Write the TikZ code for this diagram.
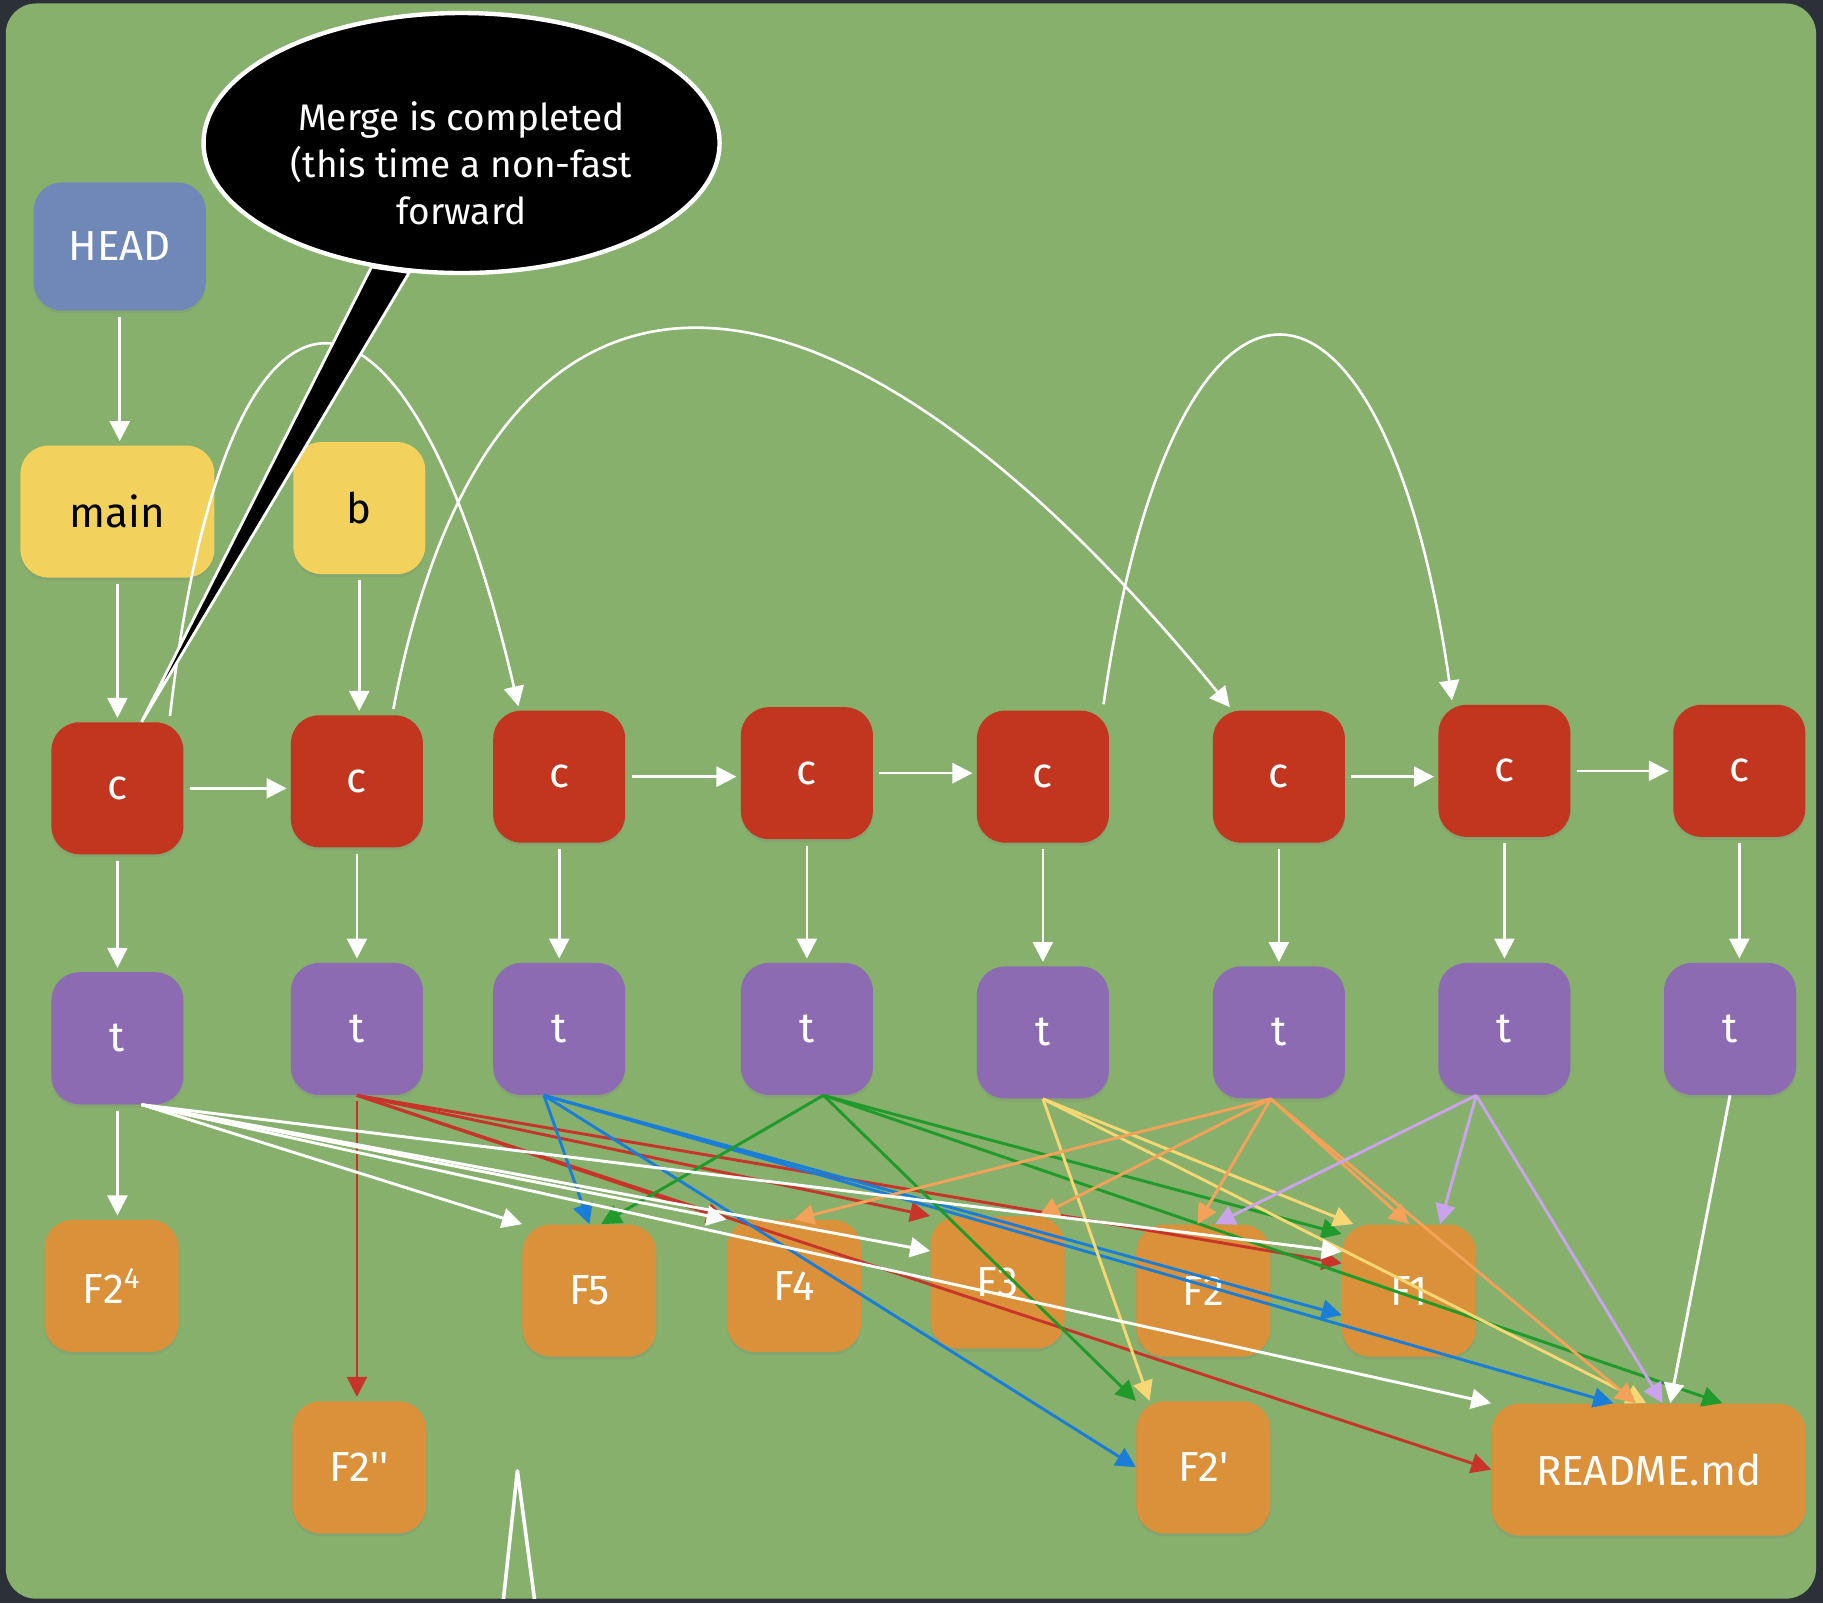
\documentclass[tikz,border=0pt]{standalone}
\usepackage{fontspec}
\newfontfamily\chalkfont{Fira Sans}
\usetikzlibrary{arrows.meta, shapes.geometric, shadows}
\definecolor{framedark}{HTML}{2C3038}
\definecolor{boardgreen}{HTML}{86B06C}
\definecolor{headblue}{HTML}{7088B8}
\definecolor{branchyellow}{HTML}{F2D15C}
\definecolor{commitred}{HTML}{C23620}
\definecolor{treepurple}{HTML}{8C6BB3}
\definecolor{fileorange}{HTML}{DB9139}
\definecolor{chalkred}{HTML}{C8342A}
\definecolor{chalkblue}{HTML}{1A7ED8}
\definecolor{chalkgreen}{HTML}{1F9A2B}
\definecolor{chalkyellow}{HTML}{F7D774}
\definecolor{chalkorange}{HTML}{F4A25A}
\definecolor{chalklilac}{HTML}{CBA2EC}

\begin{document}
\begin{tikzpicture}[
  x=0.5813pt, y=-0.5813pt,
  every node/.style={font=\chalkfont\fontsize{21}{25}\selectfont},
  >={Triangle[length=10pt, width=10pt]},
  tile/.style={
    rounded corners=14pt, inner sep=0pt,
    minimum width=66pt, minimum height=66pt,
    text=white,
    drop shadow={shadow xshift=0pt, shadow yshift=-1.5pt, opacity=0.22}
  },
  headbox/.style={tile, fill=headblue, minimum width=86pt, minimum height=64pt},
  branchbox/.style={tile, fill=branchyellow, text=black},
  commitbox/.style={tile, fill=commitred},
  treebox/.style={tile, fill=treepurple},
  filebox/.style={tile, fill=fileorange, minimum width=67pt},
  bubbleshape/.style={
    ellipse, fill=black, draw=white, line width=2.2pt,
    minimum width=258pt, minimum height=130pt, inner sep=0pt
  },
  bubbletextstyle/.style={
    ellipse, fill=black, inner sep=0pt,
    minimum width=252pt, minimum height=124pt,
    text=white, align=center,
    font=\chalkfont\fontsize{18.5}{23.5}\selectfont
  },
  link/.style={->, line width=1.3pt, draw=white, shorten >=2pt, shorten <=3pt},
  fan/.style={->, line width=1.45pt, draw=#1}
]

\useasboundingbox (0,0) rectangle (1568,1379);

% board
\fill[framedark] (0,0) rectangle (1568,1379);
\fill[boardgreen, rounded corners=15pt] (5,3) rectangle (1562,1375);

% refs and branches
\node[headbox] (head) at (103,212) {HEAD};
\node[branchbox, minimum width=97pt] (main) at (101,440) {main};
\node[branchbox] (branchb) at (309,437) {b};

% commits
\node[commitbox] (c1) at (101,678) {c};
\node[commitbox] (c2) at (307,672) {c};
\node[commitbox] (c3) at (481,668) {c};
\node[commitbox] (c4) at (694,665) {c};
\node[commitbox] (c5) at (897,668) {c};
\node[commitbox] (c6) at (1100,668) {c};
\node[commitbox] (c7) at (1294,663) {c};
\node[commitbox] (c8) at (1496,663) {c};

% trees
\node[treebox] (t1) at (101,893) {t};
\node[treebox] (t2) at (307,885) {t};
\node[treebox] (t3) at (481,885) {t};
\node[treebox] (t4) at (694,885) {t};
\node[treebox] (t5) at (897,888) {t};
\node[treebox] (t6) at (1100,888) {t};
\node[treebox] (t7) at (1294,885) {t};
\node[treebox] (t8) at (1488,885) {t};

% files
\node[filebox] (f24) at (96,1106) {F2\textsuperscript{4}};
\node[filebox] (f5) at (507,1110) {F5};
\node[filebox] (f4) at (683,1106) {F4};
\node[filebox] (f3) at (858,1103) {F3};
\node[filebox] (f2) at (1035,1110) {F2};
\node[filebox] (f1) at (1212,1110) {F1};
\node[filebox] (f2dd) at (309,1262) {F2''};
\node[filebox] (f2d) at (1035,1262) {F2'};
\node[filebox, minimum width=157pt] (readme) at (1418,1264) {README.md};

% refs
\draw[link] (head) -- (head |- main.north);
\draw[link] (main) -- (main |- c1.north);
\draw[link] (branchb) -- (branchb |- c2.north);

% history
\draw[link] (c1.east) -- (c1.east -| c2.west);
\draw[link] (c3.east) -- (c3.east -| c4.west);
\draw[link] (c4.east) -- (c4.east -| c5.west);
\draw[link] (c6.east) -- (c6.east -| c7.west);
\draw[link] (c7.east) -- (c7.east -| c8.west);
\draw[link] (c1.52) .. controls (195,190) and (350,195) .. (c3.121);
\draw[link] (c2.62) .. controls (420,180) and (700,170) .. (c6.125);
\draw[link] (c5.48) .. controls (1010,180) and (1190,190) .. (c7.128);

% commit to tree
\draw[link] (c1) -- (c1 |- t1.north);
\draw[link] (c2) -- (c2 |- t2.north);
\draw[link] (c3) -- (c3 |- t3.north);
\draw[link] (c4) -- (c4 |- t4.north);
\draw[link] (c5) -- (c5 |- t5.north);
\draw[link] (c6) -- (c6 |- t6.north);
\draw[link] (c7) -- (c7 |- t7.north);
\draw[link] (c8) -- (c8 |- t8.north);

% tree to files
\draw[link, draw=chalkred] (t2) -- (t2 |- f2dd.north);
\draw[fan=chalkred] (t2.south) -- (f4.north west);
\draw[fan=chalkred] (t2.south) -- (f3.north west);
\draw[fan=chalkred] (t2.south) -- (f1.158);
\draw[fan=chalkred] (t2.south) -- (readme.west);

\draw[fan=chalkblue] (t3.-103) -- (f5.north);
\draw[fan=chalkblue] (t3.-103) -- (f2d.west);
\draw[fan=chalkblue] (t3.-103) -- (f1.200);
\draw[fan=chalkblue] (t3.-103) -- (readme.118);

\draw[fan=chalkgreen] (t4.-76) -- (f5.80);
\draw[fan=chalkgreen] (t4.-76) -- (f2d.north west);
\draw[fan=chalkgreen] (t4.-76) -- (f1.140);
\draw[fan=chalkgreen] (t4.-76) -- (readme.42);

\draw[fan=chalkyellow] (t5.south) -- (f2d.129);
\draw[fan=chalkyellow] (t5.south) -- (f1.130);
\draw[fan=chalkyellow] (t5.south) -- (readme.92);

\draw[fan=chalkorange] (t6.-97) -- (f4.north);
\draw[fan=chalkorange] (t6.-97) -- (f3.58);
\draw[fan=chalkorange] (t6.-97) -- (f2.95);
\draw[fan=chalkorange] (t6.-97) -- (f1.north);
\draw[fan=chalkorange] (t6.-97) -- (readme.101);

\draw[fan=chalklilac] (t7.-113) -- (f2.80);
\draw[fan=chalklilac] (t7.-113) -- (f1.65);
\draw[fan=chalklilac] (t7.-113) -- (readme.78);

\draw[link] (t1) -- (t1 |- f24.north);
\draw[fan=white] (t1.-70) -- (f5.north west);
\draw[fan=white] (t1.-70) -- (f4.north west);
\draw[fan=white] (t1.-70) -- (f3.155);
\draw[fan=white] (t1.-70) -- (f1.150);
\draw[fan=white] (t1.-70) -- (readme.north west);

\draw[fan=white] (t8.south) -- (readme.72);

% speech bubble
\node[bubbleshape] (bubble) at (397,123) {};
\filldraw[fill=black, draw=white, line width=1.4pt]
  (bubble.-126) -- (c1.70) -- (bubble.-112) -- cycle;
\node[bubbletextstyle] (bubbletext) at (bubble.center) {};
\node[text=white, align=center, font=\chalkfont\fontsize{18.5}{23.5}\selectfont]
  (bubblelabel) at ([yshift=-10pt]bubble.center)
  {Merge is completed\\(this time a non-fast\\forward};

% tail of a bubble below the board
\begin{scope}
  \clip (0,0) rectangle (1568,1375);
  \draw[white, line width=1.8pt, line join=round] (432,1385) -- (445,1265) -- (461,1385);
\end{scope}

\end{tikzpicture}
\end{document}
